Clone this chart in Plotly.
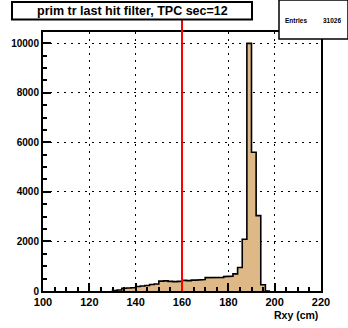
import plotly.graph_objects as go

# ---- data ----
bin_width = 2.0
bin_lo = [130, 132, 134, 136, 138, 140, 142, 144, 146, 148,
          150, 152, 154, 156, 158, 160, 162, 164, 166, 168,
          170, 172, 174, 176, 178, 180, 182, 184, 186, 188,
          190, 192, 194, 196]
counts = [20, 40, 110, 120, 130, 180, 200, 220, 260, 280,
          400, 410, 390, 380, 390, 430, 420, 440, 440, 460,
          540, 530, 520, 550, 580, 600, 690, 950, 2085, 9990,
          5600, 3040, 250, 0]
cut_value = 160
entries = 31026
title_text = "prim tr last hit filter, TPC sec=12"
x_title = "Rxy (cm)"
x_range = [100, 220]
y_range = [0, 10450]
x_ticks = [100, 120, 140, 160, 180, 200, 220]
y_ticks = [0, 2000, 4000, 6000, 8000, 10000]

# step outline from bins
xs, ys = [bin_lo[0]], [0]
for lo, c in zip(bin_lo, counts):
    xs += [lo, lo + bin_width]
    ys += [c, c]
xs.append(bin_lo[-1] + bin_width)
ys.append(0)

W, H = 348, 328
L, R, T, B = 43, 27, 32, 37
pw, ph = W - L - R, H - T - B

def px(xp):
    return (xp - L) / pw

def py(yp):
    return (H - B - yp) / ph

FONT = "Liberation Sans, Arial, sans-serif"

fig = go.Figure()
fig.add_trace(go.Scatter(
    x=xs, y=ys, mode="lines", fill="tozeroy",
    fillcolor="#DEB887", line=dict(color="black", width=1.6),
    hoverinfo="skip", showlegend=False))

axis_common = dict(
    showline=True, linecolor="black", linewidth=2, mirror=True,
    showgrid=True, gridcolor="black", gridwidth=1, griddash="2px,5px",
    ticks="inside", ticklen=8, tickwidth=1.5, tickcolor="black",
    zeroline=False, tickformat="d",
    tickfont=dict(family=FONT, size=11, color="black", weight="bold"),
)

fig.update_xaxes(range=x_range, tickvals=x_ticks, **axis_common,
                 minor=dict(dtick=5, ticks="inside", ticklen=4, tickwidth=1.5,
                            tickcolor="black", showgrid=False))
fig.update_yaxes(range=y_range, tickvals=y_ticks, **axis_common,
                 minor=dict(dtick=500, ticks="inside", ticklen=4, tickwidth=1.5,
                            tickcolor="black", showgrid=False))
fig.update_yaxes(tickfont=dict(size=10))

shapes = [
    dict(type="line", xref="x", yref="paper", x0=cut_value, x1=cut_value,
         y0=0, y1=py(19), line=dict(color="red", width=2), layer="above"),
    dict(type="rect", xref="paper", yref="paper", x0=px(12), x1=px(252),
         y0=py(19.5), y1=py(2), line=dict(color="black", width=2),
         fillcolor="white", layer="above"),
    dict(type="rect", xref="paper", yref="paper", x0=px(279), x1=px(348),
         y0=py(39), y1=py(0), line=dict(color="black", width=1.5),
         fillcolor="white", layer="above"),
]

annotations = [
    dict(text=title_text, xref="paper", yref="paper", x=px(132), y=py(11),
         xanchor="center", yanchor="middle", showarrow=False,
         font=dict(family=FONT, size=12.5, color="black", weight="bold")),
    dict(text="Entries", xref="paper", yref="paper", x=px(283), y=py(20),
         xanchor="left", yanchor="middle", showarrow=False,
         font=dict(family=FONT, size=6.5, color="black", weight="bold")),
    dict(text=str(entries), xref="paper", yref="paper", x=px(343), y=py(20),
         xanchor="right", yanchor="middle", showarrow=False,
         font=dict(family=FONT, size=6.5, color="black", weight="bold")),
    dict(text=x_title, xref="paper", yref="paper", x=px(320), y=py(315),
         xanchor="right", yanchor="middle", showarrow=False,
         font=dict(family=FONT, size=10.5, color="black", weight="bold")),
]

fig.update_layout(
    width=W, height=H, autosize=False,
    margin=dict(l=L, r=R, t=T, b=B, pad=0),
    paper_bgcolor="white", plot_bgcolor="white",
    shapes=shapes, annotations=annotations, showlegend=False,
)

fig.write_html("out.html", config={"displayModeBar": False},
               post_script="document.body.style.margin='0';document.body.style.overflow='hidden';")
